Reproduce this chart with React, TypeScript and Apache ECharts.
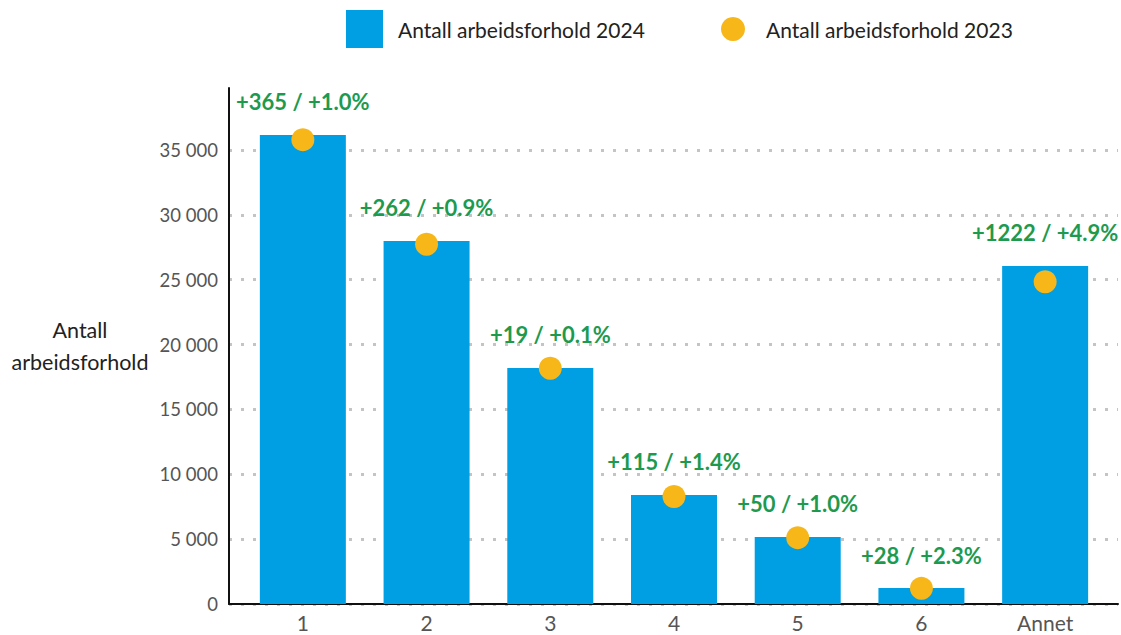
import React, { useEffect, useRef } from "react";
import * as echarts from "echarts";

const categories = ["1", "2", "3", "4", "5", "6", "Annet"];
const values2024 = [36155, 27984, 18193, 8403, 5165, 1233, 26056];
const values2023 = [35790, 27722, 18174, 8288, 5115, 1205, 24834];
const changeLabels = [
  "+365 / +1.0%",
  "+262 / +0.9%",
  "+19 / +0.1%",
  "+115 / +1.4%",
  "+50 / +1.0%",
  "+28 / +2.3%",
  "+1222 / +4.9%",
];
const seriesNames = ["Antall arbeidsforhold 2024", "Antall arbeidsforhold 2023"];
const yAxisTitle = "Antall\narbeidsforhold";

const FONT = "Lato, 'Noto Sans', sans-serif";
const Y_MAX = 39770;

export default function App() {
  const ref = useRef<HTMLDivElement>(null);
  useEffect(() => {
    document.body.style.margin = "0";
    const chart = echarts.init(ref.current!, null, { renderer: "svg" });
    const fmt = (v: number) =>
      String(v).replace(/\B(?=(\d{3})+(?!\d))/g, " ");
    chart.setOption({
      animation: false,
      backgroundColor: "#ffffff",
      textStyle: { fontFamily: FONT },
      legend: [
        {
          data: [seriesNames[0]],
          left: 341,
          top: 5,
          itemWidth: 37,
          itemHeight: 38,
          icon: "rect",
          textStyle: { fontSize: 21, color: "#222", fontFamily: FONT, padding: [0, 0, 0, 10] },
        },
        {
          data: [seriesNames[1]],
          left: 716,
          top: 12,
          itemWidth: 24,
          itemHeight: 24,
          icon: "circle",
          itemStyle: { opacity: 1 },
          textStyle: { fontSize: 21, color: "#222", fontFamily: FONT, padding: [0, 0, 0, 16] },
        },
      ],
      grid: [
        { left: 241, width: 866, top: 88, height: 516 },
        { left: 229, width: 889, top: 88, height: 516 },
      ],
      xAxis: [
        {
          type: "category",
          gridIndex: 0,
          data: categories,
          axisLine: { show: false },
          axisTick: { show: false },
          axisLabel: { fontSize: 21, color: "#555", margin: 8, fontFamily: FONT },
        },
        {
          type: "value",
          gridIndex: 1,
          min: 0,
          max: 1,
          axisLine: { show: true, onZero: false, lineStyle: { color: "#111", width: 2 } },
          axisTick: { show: false },
          axisLabel: { show: false },
          splitLine: { show: false },
        },
      ],
      yAxis: [
        {
          type: "value",
          gridIndex: 0,
          min: 0,
          max: Y_MAX,
          show: false,
          splitLine: { show: false },
        },
        {
          type: "value",
          gridIndex: 1,
          min: 0,
          max: Y_MAX,
          interval: 5000,
          axisLine: { show: true, lineStyle: { color: "#111", width: 2 } },
          axisTick: { show: false },
          axisLabel: {
            fontSize: 18.5,
            color: "#555",
            margin: 11,
            fontFamily: FONT,
            showMaxLabel: false,
            formatter: (v: number) => fmt(v),
          },
          splitLine: {
            show: true,
            showMaxLine: false,
            lineStyle: { color: "#c4c4c4", width: 3, type: [3, 9] },
          },
        },
      ],
      graphic: [
        {
          type: "text",
          x: 80,
          y: 346,
          style: {
            text: yAxisTitle,
            fontSize: 21.5,
            fontFamily: FONT,
            fill: "#222",
            align: "center",
            verticalAlign: "middle",
            lineHeight: 32,
          },
        },
      ],
      series: [
        {
          name: seriesNames[0],
          type: "bar",
          xAxisIndex: 0,
          yAxisIndex: 0,
          barWidth: 86,
          data: values2024,
          itemStyle: { color: "#009fe3" },
          label: {
            show: true,
            position: "top",
            distance: 22,
            fontSize: 22,
            fontWeight: "bold",
            color: "#1e9a4e",
            fontFamily: FONT,
            formatter: (p: any) => changeLabels[p.dataIndex],
          },
          z: 3,
        },
        {
          name: seriesNames[1],
          type: "scatter",
          xAxisIndex: 0,
          yAxisIndex: 0,
          symbolSize: 23,
          data: values2023,
          itemStyle: { color: "#f7b719", opacity: 1 },
          z: 4,
        },
      ],
    });
    return () => chart.dispose();
  }, []);
  return <div ref={ref} style={{ width: 1121, height: 635 }} />;
}
